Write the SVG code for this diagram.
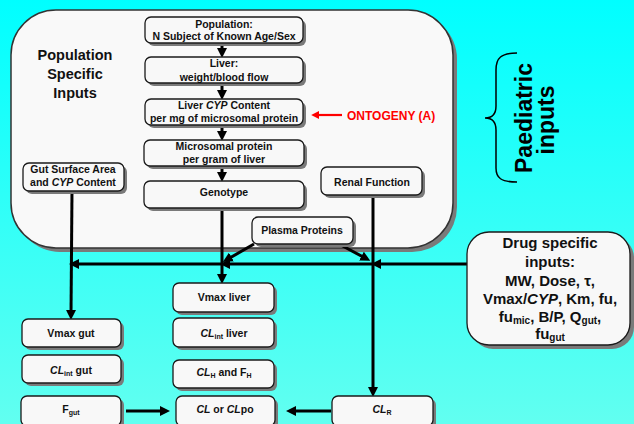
<svg xmlns="http://www.w3.org/2000/svg" width="634" height="424" viewBox="0 0 634 424">
<defs>
<linearGradient id="bg" x1="0" y1="0" x2="0" y2="1">
<stop offset="0" stop-color="#00ffff"/>
<stop offset="1" stop-color="#62fff0"/>
</linearGradient>
<marker id="ah" viewBox="0 0 10 10" refX="4" refY="5" markerWidth="10" markerHeight="10" markerUnits="userSpaceOnUse" orient="auto"><path d="M0,0 L10,5 L0,10 z" fill="#000"/></marker>
<marker id="ahr" viewBox="0 0 10 10" refX="4" refY="5" markerWidth="8" markerHeight="8" markerUnits="userSpaceOnUse" orient="auto"><path d="M0,0 L10,5 L0,10 z" fill="#ff0000"/></marker>
<style>
.sh{fill:#7a7a7a}
.nd{fill:#f8f8f8;stroke:#1a1a1a;stroke-width:1.3}
.t{font-family:"Liberation Sans",Arial,sans-serif;font-weight:bold;font-size:10.5px;fill:#111;text-anchor:middle}
.big{font-size:14.5px}
.dr{font-size:15px}
.pd{font-family:"Liberation Sans",Arial,sans-serif;font-weight:bold;font-size:23px;fill:#000;text-anchor:middle}
.c{stroke:#000;stroke-width:3;fill:none}
.cs{stroke:#000;stroke-width:3;fill:none}
.i{font-style:italic}
.sub{font-size:7px}
</style>
</defs>
<rect x="0" y="0" width="634" height="424" fill="url(#bg)"/>

<g id="panel">
<rect x="15" y="14" width="442" height="238" rx="45" class="sh"/>
<rect x="11" y="10" width="442" height="238" rx="45" fill="#f9f9f9" stroke="#333" stroke-width="1.5"/>
<text class="t big"><tspan x="75" y="60">Population</tspan><tspan x="75" y="79">Specific</tspan><tspan x="75" y="98">Inputs</tspan></text>
</g>

<g id="paediatric">
<path d="M517,53 C501,53 496,58 496,70 L496,106 C496,114 492,118 485,118 C492,118 496,122 496,130 L496,168 C496,178 501,182 517,182" fill="none" stroke="#000" stroke-width="1.5"/>
<text class="pd" transform="translate(532,118) rotate(-90)">Paediatric</text>
<text class="pd" transform="translate(554,120) rotate(-90)">inputs</text>
</g>

<g id="ontogeny">
<line x1="342" y1="115" x2="316" y2="115" stroke="#ff0000" stroke-width="2.2" marker-end="url(#ahr)"/>
<text x="347" y="119.5" font-family="Liberation Sans,Arial,sans-serif" font-weight="bold" font-size="12" fill="#ff0000">ONTOGENY (A)</text>
</g>

<g id="connectors">
<line class="cs" x1="222" y1="44" x2="222" y2="52" marker-end="url(#ah)"/>
<line class="cs" x1="222" y1="84" x2="222" y2="94" marker-end="url(#ah)"/>
<line class="cs" x1="222" y1="126" x2="222" y2="135" marker-end="url(#ah)"/>
<line class="cs" x1="222" y1="167" x2="222" y2="176" marker-end="url(#ah)"/>
<line class="c" x1="222" y1="208" x2="222" y2="278" marker-end="url(#ah)"/>
<line class="c" x1="72" y1="191" x2="71" y2="314" marker-end="url(#ah)"/>
<line class="c" x1="373" y1="195" x2="373" y2="391" marker-end="url(#ah)"/>
<line class="c" x1="467" y1="264" x2="377" y2="264" marker-end="url(#ah)"/>
<line class="c" x1="373" y1="264" x2="226" y2="264" marker-end="url(#ah)"/>
<line class="c" x1="222" y1="264" x2="75" y2="264" marker-end="url(#ah)"/>
<line class="c" x1="254" y1="244" x2="228" y2="259" marker-end="url(#ah)"/>
<line class="c" x1="339" y1="244" x2="365" y2="258" marker-end="url(#ah)"/>
<line class="c" x1="126" y1="411" x2="164" y2="411" marker-end="url(#ah)"/>
<line class="c" x1="331" y1="411" x2="292" y2="411" marker-end="url(#ah)"/>
</g>

<g id="n-population">
<rect x="148" y="20" width="158" height="26" rx="6" class="sh"/>
<rect x="145" y="17" width="158" height="26" rx="6" class="nd"/>
<text class="t"><tspan x="224" y="28">Population:</tspan><tspan x="224" y="39.5">N Subject of Known Age/Sex</tspan></text>
</g>
<g id="n-liver">
<rect x="148" y="60" width="158" height="26" rx="6" class="sh"/>
<rect x="145" y="57" width="158" height="26" rx="6" class="nd"/>
<text class="t"><tspan x="224" y="67">Liver:</tspan><tspan x="224" y="80.5">weight/blood flow</tspan></text>
</g>
<g id="n-cyp">
<rect x="148" y="102" width="158" height="26" rx="6" class="sh"/>
<rect x="145" y="99" width="158" height="26" rx="6" class="nd"/>
<text class="t"><tspan x="224" y="109">Liver <tspan class="i">CYP</tspan> Content</tspan><tspan x="224" y="121.5">per mg of microsomal protein</tspan></text>
</g>
<g id="n-microsomal">
<rect x="147" y="143" width="160" height="26" rx="6" class="sh"/>
<rect x="144" y="140" width="160" height="26" rx="6" class="nd"/>
<text class="t"><tspan x="224" y="150">Microsomal protein</tspan><tspan x="224" y="162.5">per gram of liver</tspan></text>
</g>
<g id="n-genotype">
<rect x="147" y="184" width="160" height="27" rx="6" class="sh"/>
<rect x="144" y="181" width="160" height="27" rx="6" class="nd"/>
<text class="t" x="224" y="196">Genotype</text>
</g>
<g id="n-plasma">
<rect x="255" y="220" width="101" height="27" rx="6" class="sh"/>
<rect x="252" y="217" width="101" height="27" rx="6" class="nd"/>
<text class="t" x="302" y="234">Plasma Proteins</text>
</g>
<g id="n-renal">
<rect x="324" y="170" width="101" height="28" rx="6" class="sh"/>
<rect x="321" y="167" width="101" height="28" rx="6" class="nd"/>
<text class="t" x="372" y="186">Renal Function</text>
</g>
<g id="n-gut">
<rect x="26" y="166" width="101" height="28" rx="6" class="sh"/>
<rect x="23" y="163" width="101" height="28" rx="6" class="nd"/>
<text class="t"><tspan x="73" y="172.5">Gut Surface Area</tspan><tspan x="73" y="185.5">and <tspan class="i">CYP</tspan> Content</tspan></text>
</g>

<g id="n-drug">
<rect x="471" y="236" width="163" height="113" rx="22" class="sh"/>
<rect x="467" y="232" width="163" height="113" rx="22" class="nd"/>
<text class="t dr"><tspan x="550" y="248">Drug specific</tspan><tspan x="550" y="267">inputs:</tspan><tspan x="550" y="286">MW, Dose, τ,</tspan><tspan x="550" y="304">Vmax/<tspan class="i">CYP</tspan>, Km, fu,</tspan><tspan x="550" y="322">fu<tspan font-size="10" dy="2">mic</tspan><tspan dy="-2">, B/P, Q</tspan><tspan font-size="10" dy="2">gut</tspan><tspan dy="-2">,</tspan></tspan><tspan x="550" y="339">fu<tspan font-size="10" dy="2">gut</tspan></tspan></text>
</g>

<g id="n-vmaxgut">
<rect x="25" y="322" width="99" height="28" rx="6" class="sh"/>
<rect x="22" y="319" width="99" height="28" rx="6" class="nd"/>
<text class="t" x="71" y="337">Vmax gut</text>
</g>
<g id="n-clintgut">
<rect x="25" y="358" width="99" height="28" rx="6" class="sh"/>
<rect x="22" y="355" width="99" height="28" rx="6" class="nd"/>
<text class="t" x="71" y="374"><tspan class="i">CL</tspan><tspan class="sub" dy="1.5">int</tspan><tspan dy="-1.5"> gut</tspan></text>
</g>
<g id="n-fgut">
<rect x="24" y="399" width="100" height="30" rx="6" class="sh"/>
<rect x="21" y="396" width="100" height="30" rx="6" class="nd"/>
<text class="t" x="71" y="413">F<tspan class="sub" dy="2">gut</tspan></text>
</g>
<g id="n-vmaxliver">
<rect x="176" y="286" width="101" height="29" rx="6" class="sh"/>
<rect x="173" y="283" width="101" height="29" rx="6" class="nd"/>
<text class="t" x="224" y="301">Vmax liver</text>
</g>
<g id="n-clintliver">
<rect x="176" y="321" width="101" height="29" rx="6" class="sh"/>
<rect x="173" y="318" width="101" height="29" rx="6" class="nd"/>
<text class="t" x="224" y="337"><tspan class="i">CL</tspan><tspan class="sub" dy="1.5">int</tspan><tspan dy="-1.5"> liver</tspan></text>
</g>
<g id="n-clh">
<rect x="176" y="363" width="101" height="28" rx="6" class="sh"/>
<rect x="173" y="360" width="101" height="28" rx="6" class="nd"/>
<text class="t" x="224" y="376"><tspan class="i">CL</tspan><tspan class="sub" dy="2">H</tspan><tspan dy="-2"> and F</tspan><tspan class="sub" dy="2">H</tspan></text>
</g>
<g id="n-cl">
<rect x="179" y="399" width="99" height="30" rx="6" class="sh"/>
<rect x="176" y="396" width="99" height="30" rx="6" class="nd"/>
<text class="t" x="225" y="413"><tspan class="i">CL</tspan> or <tspan class="i">CL</tspan>po</text>
</g>
<g id="n-clr">
<rect x="335" y="399" width="101" height="30" rx="6" class="sh"/>
<rect x="332" y="396" width="101" height="30" rx="6" class="nd"/>
<text class="t" x="382" y="413"><tspan class="i">CL</tspan><tspan class="sub" dy="2">R</tspan></text>
</g>
</svg>
